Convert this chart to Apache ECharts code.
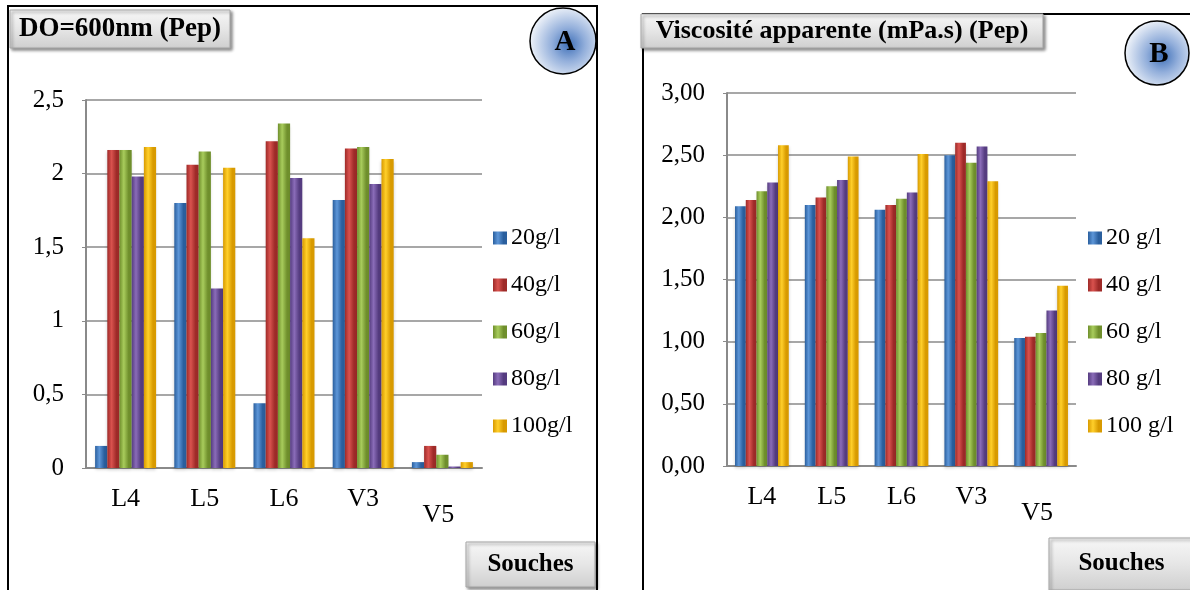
<!DOCTYPE html>
<html>
<head>
<meta charset="utf-8">
<script src="https://cdn.jsdelivr.net/npm/echarts@6/dist/echarts.min.js"></script>
<style>
html,body{margin:0;padding:0;background:#fff;}
#c{width:1190px;height:590px;}
</style>
</head>
<body>
<div id="c"></div>
<script>
// ---------- data ----------
const categories = ['L4', 'L5', 'L6', 'V3', 'V5'];

const namesA = ['20g/l', '40g/l', '60g/l', '80g/l', '100g/l'];
const doA_20 = [0.15, 1.80, 0.44, 1.82, 0.04];
const doA_40 = [2.16, 2.06, 2.22, 2.17, 0.15];
const doA_60 = [2.16, 2.15, 2.34, 2.18, 0.09];
const doA_80 = [1.98, 1.22, 1.97, 1.93, 0.01];
const doA_100 = [2.18, 2.04, 1.56, 2.10, 0.04];
const ticksA = [0, 0.5, 1, 1.5, 2, 2.5];

const namesB = ['20 g/l', '40 g/l', '60 g/l', '80 g/l', '100 g/l'];
const viscB_20 = [2.09, 2.10, 2.06, 2.50, 1.03];
const viscB_40 = [2.14, 2.16, 2.10, 2.60, 1.04];
const viscB_60 = [2.21, 2.25, 2.15, 2.44, 1.07];
const viscB_80 = [2.28, 2.30, 2.20, 2.57, 1.25];
const viscB_100 = [2.58, 2.49, 2.51, 2.29, 1.45];
const ticksB = [0, 0.5, 1, 1.5, 2, 2.5, 3];

// ---------- styles ----------
const palette = [
  ['#2a5f9e', '#5d96d8'], // blue
  ['#9e2a28', '#d9524e'], // red
  ['#6f8f2c', '#a8cc5c'], // green
  ['#553c80', '#8a6cb8'], // purple
  ['#d89a00', '#ffcf2a']  // gold
];
const FONT = '"Liberation Serif", "Times New Roman", serif';

function barColor(i) {
  const c = palette[i];
  return new echarts.graphic.LinearGradient(0, 0, 1, 0, [
    { offset: 0, color: c[0] },
    { offset: 0.35, color: c[1] },
    { offset: 0.75, color: c[0] },
    { offset: 1, color: c[0] }
  ]);
}

const seriesA = [doA_20, doA_40, doA_60, doA_80, doA_100];
const seriesB = [viscB_20, viscB_40, viscB_60, viscB_80, viscB_100];

function mkSeries(names, arrs, idx) {
  return arrs.map((arr, i) => ({
    name: names[i],
    type: 'bar',
    xAxisIndex: idx,
    yAxisIndex: idx,
    data: arr,
    barGap: '0%',
    barCategoryGap: '23%',
    itemStyle: { color: barColor(i), shadowColor: 'rgba(0,0,0,0.18)', shadowBlur: 3, shadowOffsetY: 2 },
    emphasis: { disabled: true }
  }));
}

function xAxis(idx) {
  return {
    type: 'category', gridIndex: idx, data: categories,
    axisLine: { lineStyle: { color: '#8a8a8a', width: 2 } },
    axisTick: { show: false },
    axisLabel: {
      interval: 0, margin: 18, color: '#000', fontFamily: FONT, fontSize: 26,
      formatter: v => v === 'V5' ? '{low|' + v + '}' : v,
      rich: { low: { fontFamily: FONT, fontSize: 26, color: '#000', padding: [16, 8, 0, 0] } }
    }
  };
}

function yAxis(idx, ticks, dec) {
  return {
    type: 'value', gridIndex: idx,
    min: ticks[0], max: ticks[ticks.length - 1], interval: ticks[1] - ticks[0],
    axisLine: { show: true, lineStyle: { color: '#8a8a8a', width: 2 } },
    axisTick: { show: true, length: 4, lineStyle: { color: '#8a8a8a' } },
    splitLine: { lineStyle: { color: '#8a8a8a', width: 1.5 } },
    axisLabel: {
      margin: 22, color: '#000', fontFamily: FONT, fontSize: 25,
      formatter: v => (dec ? v.toFixed(dec) : String(v)).replace('.', ',')
    }
  };
}

function legend(names, left) {
  return {
    data: names, orient: 'vertical', left: left, top: 226, padding: 0,
    itemWidth: 14, itemHeight: 13, itemGap: 23, icon: 'rect',
    textStyle: { fontFamily: FONT, fontSize: 24, color: '#000', lineHeight: 22, padding: [0, 0, 0, -1] },
    selectedMode: false
  };
}

function titleBox(x, y, w, h, text, fs) {
  return {
    type: 'group', children: [
      { type: 'rect', shape: { x: x, y: y, width: w, height: h },
        style: {
          fill: new echarts.graphic.LinearGradient(0, 0, 0, 1, [
            { offset: 0, color: '#f7f7f7' }, { offset: 0.5, color: '#e6e6e6' }, { offset: 1, color: '#cfcfcf' }
          ]),
          stroke: '#a5a5a5', lineWidth: 1,
          shadowColor: 'rgba(0,0,0,0.45)', shadowBlur: 3, shadowOffsetX: 2, shadowOffsetY: 2
        }, z: 10 },
      { type: 'text', x: x + w / 2, y: y + h / 2, z: 11,
        style: { text: text, fill: '#000', font: 'bold ' + fs + 'px ' + FONT, align: 'center', verticalAlign: 'middle' } }
    ]
  };
}

function badge(cx, cy, r, letter) {
  return {
    type: 'group', children: [
      { type: 'circle', shape: { cx: cx, cy: cy, r: r }, z: 10,
        style: {
          fill: new echarts.graphic.RadialGradient(0.58, 0.55, 0.55, [
            { offset: 0, color: '#3f70b8' }, { offset: 0.45, color: '#93afdb' }, { offset: 1, color: '#e8eef7' }
          ]),
          stroke: '#000', lineWidth: 1.5
        } },
      { type: 'text', x: cx + 2, y: cy + 2, z: 11,
        style: { text: letter, fill: '#000', font: 'bold 29px ' + FONT, align: 'center', verticalAlign: 'middle' } }
    ]
  };
}

const chart = echarts.init(document.getElementById('c'), null, { renderer: 'canvas' });
chart.setOption({
  animation: false,
  backgroundColor: '#fff',
  grid: [
    { left: 86, top: 100, width: 396, height: 368 },
    { left: 727, top: 93, width: 349, height: 373 }
  ],
  xAxis: [xAxis(0), xAxis(1)],
  yAxis: [yAxis(0, ticksA, 0), yAxis(1, ticksB, 2)],
  legend: [legend(namesA, 493), legend(namesB, 1088)],
  series: mkSeries(namesA, seriesA, 0).concat(mkSeries(namesB, seriesB, 1)),
  graphic: [
    { type: 'rect', shape: { x: 8, y: 6, width: 589, height: 600 }, style: { fill: 'none', stroke: '#000', lineWidth: 2 }, z: 5 },
    { type: 'rect', shape: { x: 643, y: 14, width: 560, height: 600 }, style: { fill: 'none', stroke: '#000', lineWidth: 2 }, z: 5 },
    titleBox(10, 10, 220, 38, 'DO=600nm (Pep)', 27),
    titleBox(641, 14, 402, 34, 'Viscosité apparente (mPa.s) (Pep)', 26),
    badge(563, 41, 33, 'A'),
    badge(1157, 53, 32, 'B'),
    titleBox(466, 542, 129, 45, 'Souches', 25),
    titleBox(1049, 538, 145, 52, 'Souches', 25)
  ]
});
</script>
</body>
</html>
